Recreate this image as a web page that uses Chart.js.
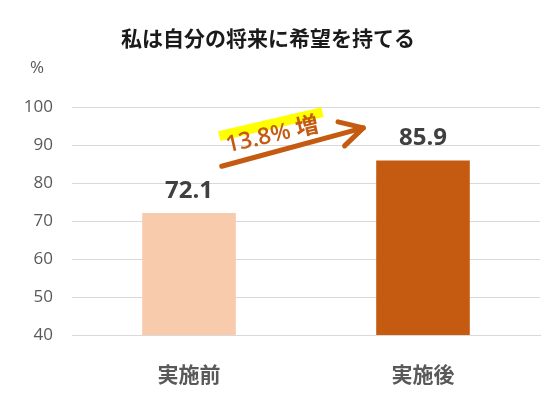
<!DOCTYPE html>
<html lang="ja">
<head>
<meta charset="utf-8">
<script src="https://cdn.jsdelivr.net/npm/chart.js@4"></script>
<style>
  html, body { margin: 0; padding: 0; background: #fff; }
  #wrap { width: 555px; height: 395px; }
</style>
</head>
<body>
<div id="wrap"><canvas id="chart" width="555" height="395"></canvas></div>
<script>
// ── Data ───────────────────────────────────────────────────
const categories = ['実施前', '実施後'];
const values     = [72.1, 85.9];
const barColors  = ['#F8CBAD', '#C55A11'];
const yTicks     = [40, 50, 60, 70, 80, 90, 100];
const chartTitle = '私は自分の将来に希望を持てる';
const unitLabel  = '%';

const JP  = "'Noto Sans CJK JP', 'Noto Sans', sans-serif";
const NUM = "'Open Sans', 'Noto Sans CJK JP', sans-serif";

// ── Extras: title, unit, value labels, increase arrow ──────
const extras = {
  id: 'extras',
  afterDatasetsDraw(chart) {
    const { ctx, scales: { x, y } } = chart;
    const meta = chart.getDatasetMeta(0);
    ctx.save();

    // title
    ctx.fillStyle = '#1a1a1a';
    ctx.font = "bold 21px " + JP;
    ctx.textAlign = 'center';
    ctx.textBaseline = 'middle';
    ctx.fillText(chartTitle, 268, 38);

    // unit
    ctx.fillStyle = '#595959';
    ctx.font = "17px " + NUM;
    ctx.fillText(unitLabel, 37, 68);

    // value labels
    ctx.fillStyle = '#404040';
    ctx.font = "bold 24px " + NUM;
    meta.data.forEach((bar, i) => {
      ctx.fillText(values[i].toFixed(1), bar.x, bar.y - 22);
    });

    // arrow (anchored in category / value units)
    const cx = v => x.getPixelForValue(0) + (x.getPixelForValue(1) - x.getPixelForValue(0)) * v;
    const x0 = cx(0.14),  y0 = y.getPixelForValue(84.4);
    const x1 = cx(0.745), y1 = y.getPixelForValue(94.5);
    const ang = Math.atan2(y1 - y0, x1 - x0);
    ctx.strokeStyle = '#C55A11';
    ctx.lineWidth = 5;
    ctx.lineCap = 'round';
    ctx.lineJoin = 'round';
    ctx.beginPath();
    ctx.moveTo(x0, y0);
    ctx.lineTo(x1, y1);
    ctx.stroke();
    const head = 26, spread = 0.5;
    ctx.beginPath();
    ctx.moveTo(x1 - head * Math.cos(ang - spread), y1 - head * Math.sin(ang - spread));
    ctx.lineTo(x1, y1);
    ctx.lineTo(x1 - head * Math.cos(ang + spread), y1 - head * Math.sin(ang + spread));
    ctx.stroke();

    // increase text with highlight
    const diff = (values[1] - values[0]).toFixed(1) + '% 増';
    const tx = cx(0.346), ty = y.getPixelForValue(93.0);
    ctx.translate(tx, ty);
    ctx.rotate(-13 * Math.PI / 180);
    ctx.fillStyle = '#FFFF00';
    ctx.fillRect(-50, -14, 106, 10);
    ctx.fillStyle = '#C55A11';
    ctx.font = "600 23px " + NUM;
    ctx.textAlign = 'center';
    ctx.textBaseline = 'alphabetic';
    ctx.fillText(diff, 2, 9);

    ctx.restore();
  }
};

new Chart(document.getElementById('chart'), {
  type: 'bar',
  data: {
    labels: categories,
    datasets: [{
      data: values,
      backgroundColor: barColors,
      borderWidth: 0,
      barPercentage: 0.4,
      categoryPercentage: 1
    }]
  },
  options: {
    responsive: false,
    animation: false,
    layout: { padding: { top: 107, right: 15, left: 0, bottom: 0 } },
    plugins: {
      legend: { display: false },
      tooltip: { enabled: false }
    },
    scales: {
      x: {
        afterFit: s => { s.height = 60; },
        grid: { display: false, drawTicks: false },
        border: { display: true, color: '#D9D9D9', width: 1 },
        ticks: {
          color: '#595959',
          padding: 26,
          font: { family: JP, size: 21, weight: 'bold' }
        }
      },
      y: {
        min: 40,
        max: 100,
        afterFit: s => { s.width = 72; },
        afterBuildTicks: s => { s.ticks = yTicks.map(v => ({ value: v })); },
        grid: { color: '#D9D9D9', lineWidth: 1, drawTicks: false },
        border: { display: false },
        ticks: {
          color: '#595959',
          padding: 19,
          font: { family: NUM, size: 17 }
        }
      }
    }
  },
  plugins: [extras]
});
</script>
</body>
</html>
